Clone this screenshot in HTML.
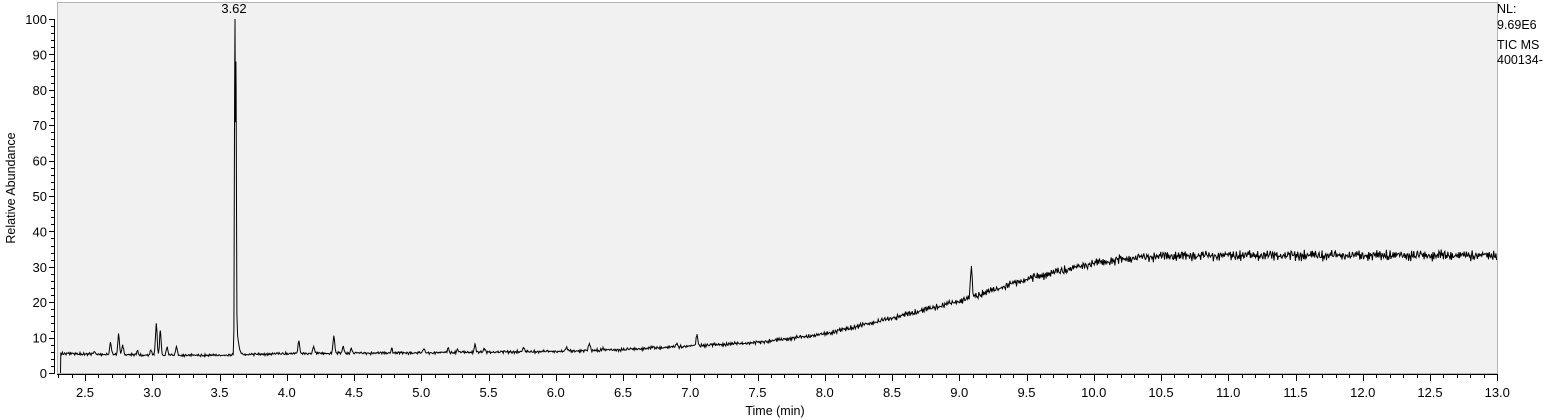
<!DOCTYPE html>
<html><head><meta charset="utf-8"><style>
html,body{margin:0;padding:0;background:#fff;width:1547px;height:420px;overflow:hidden}
svg{display:block;font-family:"Liberation Sans",Arial,sans-serif}
</style></head><body>
<svg id="chart" width="1547" height="420" viewBox="0 0 1547 420" xmlns="http://www.w3.org/2000/svg">
<rect x="57.5" y="2.5" width="1440" height="371" fill="#f1f1f1" stroke="#b4b4b4" stroke-width="1"/>
<g id="axes"></g>
<polyline id="trace" fill="none" stroke="#000" stroke-width="1" points=""/>
<text x="234" y="13" font-size="13" text-anchor="middle" fill="#000">3.62</text>
<text transform="translate(15,188) rotate(-90)" font-size="12.5" text-anchor="middle" fill="#000">Relative Abundance</text>
<text x="775" y="415" font-size="12.5" text-anchor="middle" fill="#000">Time (min)</text>
<g font-size="12.5" fill="#000">
<text x="1497" y="13">NL:</text>
<text x="1497" y="29">9.69E6</text>
<text x="1497" y="49">TIC  MS</text>
<text x="1497" y="64">400134-</text>
</g>
</svg>
<script>
// baseline (time, %)
const baseTimes = [2.32,3.0,3.5,4.0,4.5,5.0,5.5,6.0,6.5,7.0,7.5,8.0,8.5,9.0,9.1,9.5,10.0,10.3,10.5,11.0,12.0,13.0];
const baseVals  = [5.5,5.0,5.0,5.5,5.6,5.7,5.9,6.1,6.6,7.6,8.6,11.0,15.5,20.3,21.5,26.5,31.0,32.5,33.0,33.2,33.2,33.2];
// peaks: times, absolute heights
const peakTimes  = [2.57,2.69,2.75,2.78,2.89,2.99,3.03,3.06,3.11,3.18,3.615,3.622,4.09,4.2,4.35,4.42,4.48,4.78,5.02,5.2,5.27,5.4,5.47,5.76,6.08,6.25,6.35,6.72,6.9,7.05,8.02,9.09];
const peakHeights= [6.0,8.5,11.0,8.0,6.3,6.5,14.0,12.0,7.2,7.5,100,88,9.0,7.5,10.5,7.5,7.0,6.8,6.8,7.0,6.8,8.2,6.8,7.2,7.2,8.3,7.0,7.2,8.3,11.0,11.5,30.0];
// noise patterns (relative units)
const noiseA = [0.3,-0.5,0.9,-0.2,-0.8,0.6,0.1,-0.9,0.7,0.4,-0.3,1.0,-0.6,0.2,-1.0,0.5,0.8,-0.4,0.0,-0.7,0.9,-0.1,0.6,-0.8,0.3,-0.5,1.0,-0.3,0.2,-0.9,0.5,0.7,-0.6,0.1,-0.2,0.8,-1.0];
const noiseB = [-0.4,0.8,0.2,-1.0,0.5,-0.1,0.9,-0.6,0.3,-0.8,1.0,0.0,-0.3,0.6,-0.9,0.4,0.7,-0.5,0.1,-0.2,0.9,-0.7,0.5,-1.0,0.3,0.6,-0.4,0.2,-0.8];
const xTicks = ["2.5","3.0","3.5","4.0","4.5","5.0","5.5","6.0","6.5","7.0","7.5","8.0","8.5","9.0","9.5","10.0","10.5","11.0","11.5","12.0","12.5","13.0"];
const yTicks = ["0","10","20","30","40","50","60","70","80","90","100"];

const X = t => 85 + (t - 2.5) * 134.5;
const Y = v => 373 - v * 3.54;
const NS = "http://www.w3.org/2000/svg";
const axes = document.getElementById('axes');
function line(x1,y1,x2,y2,name){const l=document.createElementNS(NS,'line');l.setAttribute('x1',x1);l.setAttribute('y1',y1);l.setAttribute('x2',x2);l.setAttribute('y2',y2);l.setAttribute('stroke','#000');l.setAttribute('stroke-width','1');


axes.appendChild(l);}
function text(x,y,s,anchor,name){const t=document.createElementNS(NS,'text');t.setAttribute('x',x);t.setAttribute('y',y);t.setAttribute('font-size','13');t.setAttribute('text-anchor',anchor);t.textContent=s;


axes.appendChild(t);}
line(54.5,Y(100),54.5,374,'y-axis-line');
line(57,374.5,1498,374.5,'x-axis-line');
for(let v=0;v<=100;v+=2){const major=v%10===0;line(major?49:51,Math.round(Y(v))+0.5,54.5,Math.round(Y(v))+0.5,'y-tick');}
yTicks.forEach(s=>text(47,Y(+s)+5,s,'end','y-tick-label'));
for(let k=23;k<=130;k++){const t=k/10;const major=k%5===0;const x=Math.round(X(t))+0.5;line(x,374.5,x,major?381:378,'x-tick');}
xTicks.forEach(s=>text(X(+s),397,s,'middle','x-tick-label'));

function baseAt(t){for(let i=0;i<baseTimes.length-1;i++){if(t<=baseTimes[i+1]){const f=(t-baseTimes[i])/(baseTimes[i+1]-baseTimes[i]);return baseVals[i]+f*(baseVals[i+1]-baseVals[i]);}}return baseVals[baseVals.length-1];}
const times=[];
for(let t=2.32;t<=13.0001;t+=0.0055) times.push(t);
peakTimes.forEach(p=>times.push(p));
times.sort((a,b)=>a-b);
const pts=[];
pts.push(X(2.318).toFixed(1)+','+Y(0).toFixed(1));
times.forEach((t,idx)=>{
  const b=baseAt(t);
  const isPeak=peakTimes.indexOf(t)>=0;
  let n=noiseA[idx%noiseA.length]*0.6+noiseB[(idx*3)%noiseB.length]*0.5;
  let v=b+(isPeak?0:n*(0.2+b*0.04));
  let add=0;
  for(let j=0;j<peakTimes.length;j++){
    const d=t-peakTimes[j];
    const h=peakHeights[j]-b;
    const big=peakHeights[j]>50;
    const sig=big?0.0035:0.006;
    let g=Math.exp(-d*d/(2*sig*sig));
    if(big&&d>0) g=Math.max(g,Math.exp(-d/0.012)*0.2);
    if(h>0) add=Math.max(add,h*g);
  }
  v+=add;
  pts.push(X(t).toFixed(1)+','+Y(Math.min(v,100)).toFixed(1));
});
document.getElementById('trace').setAttribute('points',pts.join(' '));
</script>
</body></html>
